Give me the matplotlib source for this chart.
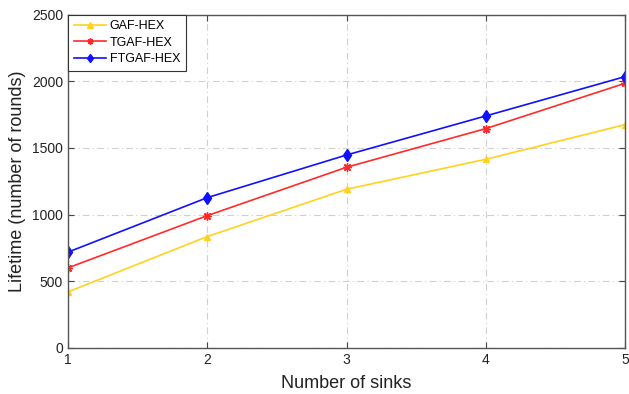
import matplotlib
matplotlib.use("Agg")
import matplotlib.pyplot as plt

plt.rcParams["font.family"] = ["Liberation Sans", "DejaVu Sans"]

sinks = [1, 2, 3, 4, 5]
gaf_hex = [420, 835, 1190, 1415, 1675]
tgaf_hex = [600, 992, 1355, 1645, 1985]
ftgaf_hex = [718, 1127, 1447, 1740, 2035]

fig = plt.figure(figsize=(6.29, 3.94), dpi=100)
ax = fig.add_axes([0.108, 0.117, 0.886, 0.846])

ax.plot(sinks, gaf_hex, color="#FFD21F", marker="^", ms=5, lw=1.2, label="GAF-HEX")
ax.plot(sinks, tgaf_hex, color="#FF2A2A", marker=(8, 2, 0), ms=6, mew=1.0, lw=1.2,
        label="TGAF-HEX")
ax.plot(sinks, ftgaf_hex, color="#1010FF", marker="d", ms=6, lw=1.2, label="FTGAF-HEX")

ax.set_xlim(1, 5)
ax.set_ylim(0, 2500)
ax.set_xticks(sinks)
ax.set_yticks(range(0, 2501, 500))
ax.tick_params(direction="in", top=True, right=True, labelsize=10, length=4,
               color="#444444", labelcolor="#222222")
for s in ax.spines.values():
    s.set_color("#555555")
    s.set_linewidth(1.0)
ax.grid(True, ls=(0, (6, 3, 1, 3)), color="#d0d0d0", lw=0.8)

ax.set_xlabel("Number of sinks", fontsize=13, color="#222222", labelpad=6)
ax.set_ylabel("Lifetime (number of rounds)", fontsize=13, color="#222222")

leg = ax.legend(loc="upper left", fontsize=9, fancybox=False, framealpha=1,
                edgecolor="#333333", borderaxespad=0.0, handlelength=2.6,
                handletextpad=0.3, borderpad=0.45, labelspacing=0.35,
                markerscale=0.75)
leg.get_frame().set_linewidth(0.8)

fig.savefig("out.png", dpi=100)
